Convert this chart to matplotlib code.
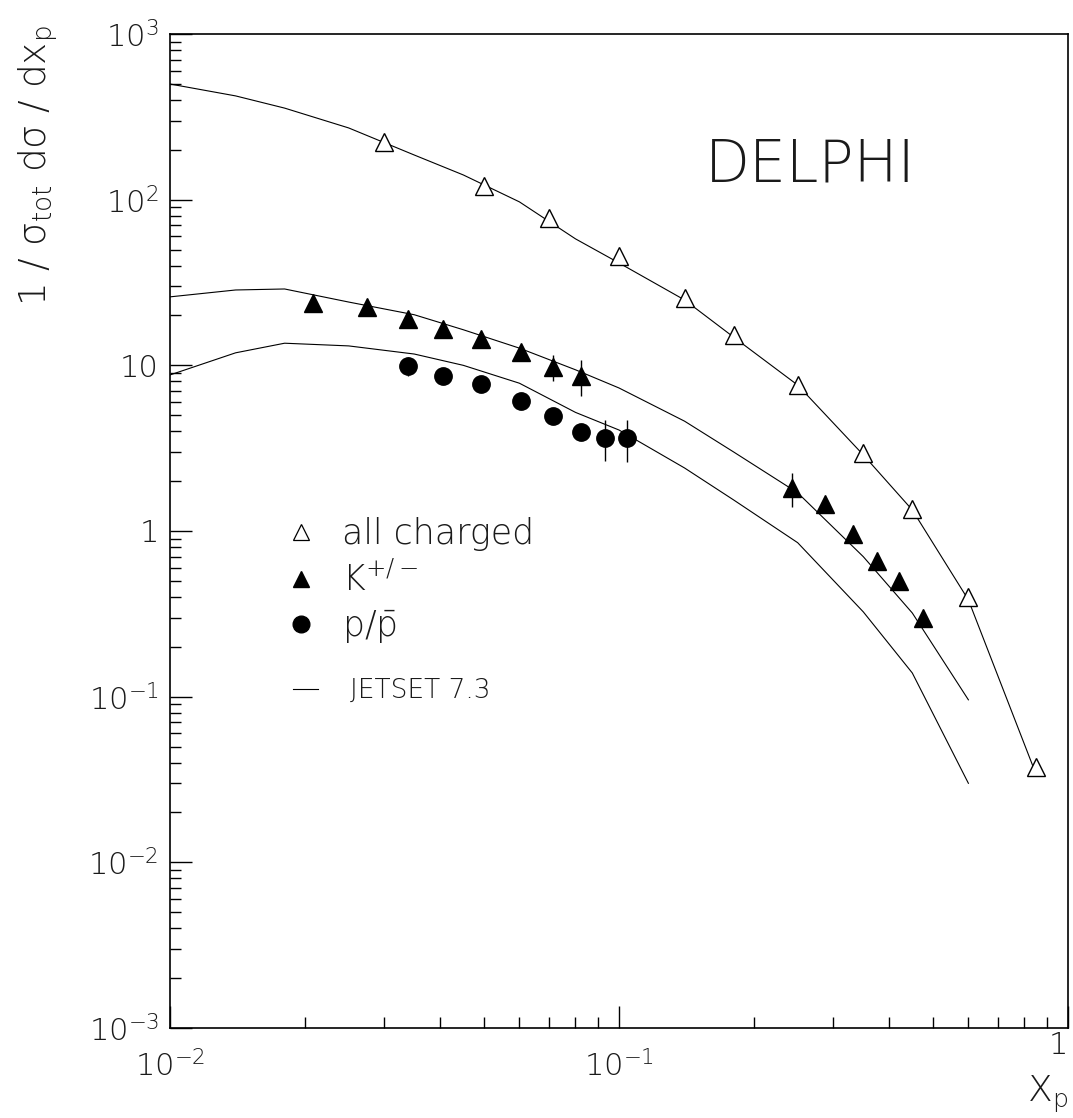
import matplotlib
matplotlib.use("Agg")
import matplotlib.pyplot as plt
from matplotlib.lines import Line2D
from matplotlib.ticker import FixedLocator, FixedFormatter, LogLocator, NullFormatter

plt.rcParams['font.family'] = ['DejaVu Sans']
plt.rcParams['font.weight'] = 'light'
plt.rcParams['mathtext.fontset'] = 'dejavusans'

# ---------------- data ----------------
# all charged (open triangles)
ch_x = [0.03, 0.05, 0.07, 0.10, 0.14, 0.18, 0.25, 0.35, 0.45, 0.60, 0.85]
ch_y = [223, 121, 77.6, 45.7, 25.5, 15.3, 7.6, 2.96, 1.36, 0.40, 0.0377]

# K+/- (filled triangles)
k_x = [0.0208, 0.0275, 0.0339, 0.0405, 0.0493, 0.0605, 0.0713, 0.0823,
       0.243, 0.2875, 0.332, 0.376, 0.421, 0.476]
k_y = [23.8, 22.5, 19.1, 16.6, 14.4, 12.0, 9.8, 8.6,
       1.82, 1.46, 0.96, 0.66, 0.50, 0.30]
k_err = [0.5, 0.5, 0.4, 0.4, 0.4, 0.5, 1.8, 2.1,
         0.43, 0.06, 0.04, 0.03, 0.03, 0.02]

# p / pbar (filled circles)
p_x = [0.0339, 0.0405, 0.0493, 0.0605, 0.0713, 0.0823, 0.0931, 0.1042]
p_y = [9.9, 8.6, 7.7, 6.1, 4.95, 3.97, 3.65, 3.65]
p_err = [1.3, 0.3, 0.3, 0.25, 0.2, 0.2, 1.0, 1.05]

# JETSET 7.3 curves
js_x = [0.01, 0.014, 0.018, 0.025, 0.035, 0.045, 0.06, 0.08, 0.10,
        0.14, 0.18, 0.25, 0.35, 0.45, 0.60]
js_ch_x = js_x + [0.85]
js_ch_y = [499, 423, 357, 271, 186, 141, 97, 58, 41.5,
           24.8, 14.8, 7.6, 2.88, 1.34, 0.384, 0.0337]
js_k_y = [25.9, 28.5, 28.9, 24.1, 20.2, 16.4, 12.7, 9.4, 7.3,
          4.6, 3.0, 1.70, 0.70, 0.32, 0.0957]
js_p_y = [8.75, 11.9, 13.6, 13.1, 11.7, 10.0, 7.8, 5.2, 4.07,
          2.40, 1.54, 0.85, 0.325, 0.139, 0.030]

ytick_values = [1e-3, 1e-2, 1e-1, 1, 10, 1e2, 1e3]
ytick_labels = [r'$10^{-3}$', r'$10^{-2}$', r'$10^{-1}$', '1', '10',
                r'$10^{2}$', r'$10^{3}$']
xtick_values = [1e-2, 1e-1, 1]
xtick_labels = [r'$10^{-2}$', r'$10^{-1}$', '1']

legend_labels = ['all charged', r'K$^{+/-}$', r'p/$\bar{\mathrm{p}}$']
jetset_label = 'JETSET 7.3'
experiment = 'DELPHI'
ylabel = r'1 / σ$_{\mathrm{tot}}$ dσ / dx$_{\mathrm{p}}$'
xlabel = r'X$_{\mathrm{p}}$'

TXT = '#1a1a1a'

# ---------------- figure ----------------
fig = plt.figure(figsize=(10.73, 11.18), dpi=100)
ax = fig.add_axes([170 / 1073, 1 - 1028 / 1118, 898 / 1073, 994 / 1118])
ax.set_xscale('log')
ax.set_yscale('log')
ax.set_xlim(1e-2, 1)
ax.set_ylim(1e-3, 1e3)

lw = 0.8
ax.plot(js_ch_x, js_ch_y, color='black', lw=lw)
ax.plot(js_x, js_k_y, color='black', lw=lw)
ax.plot(js_x, js_p_y, color='black', lw=lw)

ax.plot(ch_x, ch_y, linestyle='none', marker='^', ms=13, mfc='white',
        mec='black', mew=1.0, zorder=3)
ax.errorbar(k_x, k_y, yerr=k_err, fmt='^', ms=12.5, color='black',
            ecolor='black', elinewidth=1.0, capsize=0, zorder=3)
ax.errorbar(p_x, p_y, yerr=p_err, fmt='o', ms=12.5, color='black',
            ecolor='black', elinewidth=1.0, capsize=0, zorder=3)

# ticks
ax.yaxis.set_major_locator(FixedLocator(ytick_values))
ax.yaxis.set_major_formatter(FixedFormatter(ytick_labels))
ax.xaxis.set_major_locator(FixedLocator(xtick_values))
ax.xaxis.set_major_formatter(FixedFormatter(xtick_labels))
ax.yaxis.set_minor_locator(LogLocator(base=10, subs=range(2, 10), numticks=20))
ax.xaxis.set_minor_locator(LogLocator(base=10, subs=range(2, 10), numticks=20))
ax.yaxis.set_minor_formatter(NullFormatter())
ax.xaxis.set_minor_formatter(NullFormatter())
ax.tick_params(which='both', direction='in', top=False, right=False,
               labelsize=22, labelcolor=TXT, width=1.0)
ax.tick_params(which='major', length=16)
ax.tick_params(which='minor', length=8)
ax.tick_params(axis='y', which='major', pad=8)
ax.tick_params(axis='x', which='major', pad=16)
for s in ax.spines.values():
    s.set_linewidth(1.2)
fig.canvas.draw()
last_tick = ax.xaxis.get_major_ticks()[-1]
last_tick.set_pad(2)
last_tick.label1.set_horizontalalignment('right')

# axis titles
fig.text(38 / 1073, 1 - 165 / 1118, ylabel,
         rotation=90, ha='center', va='center', fontsize=27, color=TXT)
fig.text(1048 / 1073, 1 - 1094 / 1118, xlabel, ha='center',
         va='center', fontsize=26, color=TXT)

fig.text(810 / 1073, 1 - 165 / 1118, experiment, ha='center', va='center',
         fontsize=42, color=TXT)

# legend
handles = [
    Line2D([], [], linestyle='none', marker='^', ms=12, mfc='white', mec='black', mew=0.9),
    Line2D([], [], linestyle='none', marker='^', ms=12, color='black'),
    Line2D([], [], linestyle='none', marker='o', ms=12, color='black'),
]
leg = ax.legend(handles, legend_labels, loc='upper left',
                bbox_to_anchor=(0.126, 0.514), frameon=False, fontsize=25,
                handlelength=1.0, handletextpad=0.7, labelspacing=0.3,
                borderpad=0, borderaxespad=0)
for t in leg.get_texts():
    t.set_color(TXT)
ax.add_artist(leg)
leg2 = ax.legend([Line2D([], [], color='black', lw=lw)], [jetset_label],
                 loc='upper left', bbox_to_anchor=(0.137, 0.352), frameon=False,
                 fontsize=19, handlelength=0.95, handletextpad=1.2,
                 borderpad=0, borderaxespad=0)
for t in leg2.get_texts():
    t.set_color(TXT)

fig.savefig('out.png', dpi=100)
